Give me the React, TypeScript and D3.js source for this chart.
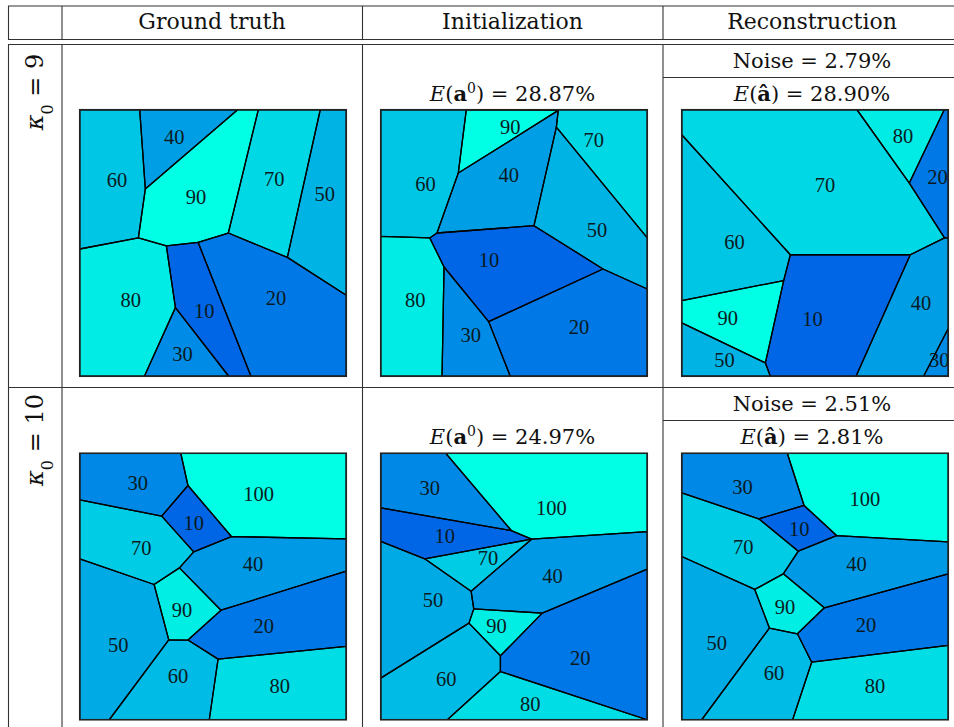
import React from "react";
import * as d3 from "d3";

type Pt = [number, number];
type Cell = { v: number; pts: Pt[]; lab: Pt };

// ---------- data (cell value, polygon vertices in 0..100 panel units, label position) ----------
const gt9: Cell[] = [
  { v: 60, pts: [[0, 0], [22.5, 0], [24.6, 29.75], [22, 48.1], [0, 52.25]], lab: [14, 26.5] },
  { v: 40, pts: [[22.5, 0], [59.25, 0], [24.6, 29.75]], lab: [35.5, 10.25] },
  { v: 90, pts: [[24.6, 29.75], [59.25, 0], [67, 0], [55.75, 46.25], [44.4, 49.75], [32.5, 51.1], [22, 48.1]], lab: [43.6, 32.9] },
  { v: 70, pts: [[67, 0], [90.25, 0], [77.9, 55.4], [55.75, 46.25]], lab: [73, 26] },
  { v: 50, pts: [[90.25, 0], [100, 0], [100, 69.6], [77.9, 55.4]], lab: [91.9, 31.5] },
  { v: 20, pts: [[55.75, 46.25], [77.9, 55.4], [100, 69.6], [100, 100], [64.25, 100], [44.4, 49.75]], lab: [73.6, 70.6] },
  { v: 10, pts: [[32.5, 51.1], [44.4, 49.75], [64.25, 100], [55.9, 100], [35.9, 74.25]], lab: [46.75, 75.6] },
  { v: 30, pts: [[35.9, 74.25], [55.9, 100], [24.25, 100]], lab: [38.6, 91.5] },
  { v: 80, pts: [[0, 52.25], [22, 48.1], [32.5, 51.1], [35.9, 74.25], [24.25, 100], [0, 100]], lab: [19.1, 71.5] },
];

const init9: Cell[] = [
  { v: 60, pts: [[0, 0], [32.1, 0], [29.1, 23.75], [21.1, 46.25], [18.4, 48.1], [0, 47.5]], lab: [16.75, 27.75] },
  { v: 90, pts: [[32.1, 0], [66.6, 0.25], [29.1, 23.75]], lab: [48.6, 6.5] },
  { v: 40, pts: [[29.1, 23.75], [66.6, 0.25], [65.9, 6.5], [57.5, 43.5], [21.1, 46.25]], lab: [48, 24.4] },
  { v: 70, pts: [[66.6, 0.25], [66.6, 0], [100, 0], [100, 48.1], [65.9, 6.5]], lab: [79.9, 11.25] },
  { v: 50, pts: [[65.9, 6.5], [100, 48.1], [100, 67.25], [83.4, 59.75], [57.5, 43.5]], lab: [81.1, 45.25] },
  { v: 10, pts: [[21.1, 46.25], [57.5, 43.5], [83.4, 59.75], [40.5, 79.5], [23.75, 59], [18.4, 48.1]], lab: [40.6, 56.25] },
  { v: 80, pts: [[0, 47.5], [18.4, 48.1], [23.75, 59], [23, 100], [0, 100]], lab: [12.9, 71.25] },
  { v: 30, pts: [[23.75, 59], [40.5, 79.5], [48.6, 100], [23, 100]], lab: [33.75, 84.6] },
  { v: 20, pts: [[40.5, 79.5], [83.4, 59.75], [100, 67.25], [100, 100], [48.6, 100]], lab: [74.4, 81.5] },
];

const recon9: Cell[] = [
  { v: 70, pts: [[0, 0], [65.75, 0], [85.4, 27.5], [98.6, 48.1], [85.75, 54.4], [40.75, 54.4], [0, 9.4]], lab: [53.75, 28.1] },
  { v: 80, pts: [[65.75, 0], [98.5, 0], [85.4, 27.5]], lab: [83, 9.75] },
  { v: 20, pts: [[98.5, 0], [100, 0], [100, 48.1], [98.6, 48.1], [85.4, 27.5]], lab: [96, 25.25] },
  { v: 60, pts: [[0, 9.4], [40.75, 54.4], [38.25, 64.1], [0, 71.6]], lab: [19.75, 49.75] },
  { v: 90, pts: [[0, 71.6], [38.25, 64.1], [31.4, 95], [0, 80]], lab: [17.25, 78.1] },
  { v: 50, pts: [[0, 80], [31.4, 95], [33.25, 100], [0, 100]], lab: [16, 94] },
  { v: 10, pts: [[40.75, 54.4], [85.75, 54.4], [65.4, 100], [33.25, 100], [31.4, 95], [38.25, 64.1]], lab: [49.1, 78.5] },
  { v: 40, pts: [[85.75, 54.4], [98.6, 48.1], [100, 48.1], [100, 82.1], [90.75, 100], [65.4, 100]], lab: [89.75, 72.5] },
  { v: 30, pts: [[100, 82.1], [100, 100], [90.75, 100]], lab: [96.6, 94] },
];

const gt10: Cell[] = [
  { v: 30, pts: [[0, 0], [37.9, 0], [40.6, 12.1], [30.75, 23.6], [0, 17.5]], lab: [21.75, 11.25] },
  { v: 100, pts: [[37.9, 0], [100, 0], [100, 32.1], [56.9, 31.25], [40.6, 12.1]], lab: [67.1, 15.25] },
  { v: 10, pts: [[40.6, 12.1], [56.9, 31.25], [42.75, 37], [30.75, 23.6]], lab: [42.75, 26.25] },
  { v: 70, pts: [[0, 17.5], [30.75, 23.6], [42.75, 37], [37.4, 43], [27.9, 49.25], [0, 39.6]], lab: [23.1, 35.5] },
  { v: 40, pts: [[42.75, 37], [56.9, 31.25], [100, 32.1], [100, 44.25], [53, 58.9], [37.4, 43]], lab: [65, 41.5] },
  { v: 90, pts: [[37.4, 43], [53, 58.9], [40.6, 70.1], [33.4, 70], [27.9, 49.25]], lab: [38.4, 58.75] },
  { v: 50, pts: [[0, 39.6], [27.9, 49.25], [33.4, 70], [11.1, 100], [0, 100]], lab: [14.4, 72.1] },
  { v: 20, pts: [[53, 58.9], [100, 44.25], [100, 72.5], [51.9, 77.25], [40.6, 70.1]], lab: [69, 64.9] },
  { v: 60, pts: [[33.4, 70], [40.6, 70.1], [51.9, 77.25], [48.6, 100], [11.1, 100]], lab: [36.9, 83.75] },
  { v: 80, pts: [[51.9, 77.25], [100, 72.5], [100, 100], [48.6, 100]], lab: [75, 87.5] },
];

const init10: Cell[] = [
  { v: 30, pts: [[0, 0], [24.4, 0], [49, 29], [0, 20.5]], lab: [18.4, 13] },
  { v: 100, pts: [[24.4, 0], [100, 0], [100, 29.4], [56.6, 32.25], [49, 29]], lab: [64, 20.5] },
  { v: 10, pts: [[0, 20.5], [49, 29], [56.6, 32.25], [16.5, 39.6], [0, 33.1]], lab: [24, 30.9] },
  { v: 70, pts: [[16.5, 39.6], [56.6, 32.25], [33.9, 51.75]], lab: [40.25, 39.25] },
  { v: 40, pts: [[56.6, 32.25], [100, 29.4], [100, 43.5], [60.6, 60], [34.9, 58.4], [33.9, 51.75]], lab: [64.4, 45.9] },
  { v: 50, pts: [[0, 33.1], [16.5, 39.6], [33.9, 51.75], [34.9, 58.4], [33.1, 63.75], [0, 84.4]], lab: [19.6, 55.25] },
  { v: 90, pts: [[34.9, 58.4], [60.6, 60], [44.9, 76], [33.1, 63.75]], lab: [43.4, 64.9] },
  { v: 20, pts: [[60.6, 60], [100, 43.5], [100, 100], [44.9, 81.9], [44.9, 76]], lab: [74.9, 76.75] },
  { v: 60, pts: [[0, 84.4], [33.1, 63.75], [44.9, 76], [44.9, 81.9], [25, 100], [0, 100]], lab: [24.6, 84.6] },
  { v: 80, pts: [[44.9, 81.9], [100, 100], [25, 100]], lab: [56.1, 94] },
];

const recon10: Cell[] = [
  { v: 30, pts: [[0, 0], [39.6, 0], [45.9, 19.6], [28.9, 24.6], [0, 14.9]], lab: [22.75, 12.75] },
  { v: 100, pts: [[39.6, 0], [100, 0], [100, 33.25], [58.1, 30.9], [45.9, 19.6]], lab: [68.75, 17.1] },
  { v: 10, pts: [[45.9, 19.6], [58.1, 30.9], [43.75, 36.75], [28.9, 24.6]], lab: [44.1, 28.4] },
  { v: 70, pts: [[0, 14.9], [28.9, 24.6], [43.75, 36.75], [38.1, 45.25], [27.4, 51.1], [0, 38.75]], lab: [23.1, 35.25] },
  { v: 40, pts: [[43.75, 36.75], [58.1, 30.9], [100, 33.25], [100, 45.25], [53.5, 58], [38.1, 45.25]], lab: [65.6, 41.5] },
  { v: 90, pts: [[38.1, 45.25], [53.5, 58], [43.4, 67.75], [32.9, 65.6], [27.4, 51.1]], lab: [38.75, 57.75] },
  { v: 50, pts: [[0, 38.75], [27.4, 51.1], [32.9, 65.6], [7.5, 100], [0, 100]], lab: [13.1, 71.25] },
  { v: 20, pts: [[53.5, 58], [100, 45.25], [100, 72.1], [48.75, 78.4], [43.4, 67.75]], lab: [69.1, 64.6] },
  { v: 60, pts: [[32.9, 65.6], [43.4, 67.75], [48.75, 78.4], [41.6, 100], [7.5, 100]], lab: [34.6, 82.5] },
  { v: 80, pts: [[48.75, 78.4], [100, 72.1], [100, 100], [41.6, 100]], lab: [72.5, 87.5] },
];

const columnHeaders = ["Ground truth", "Initialization", "Reconstruction"];
const kappaValues = ["9", "10"];
const noiseLevels = ["2.79%", "2.51%"];
const initErrors = ["28.87%", "24.97%"];
const reconErrors = ["28.90%", "2.81%"];
const rowPanels: Cell[][][] = [
  [gt9, init9, recon9],
  [gt10, init10, recon10],
];

// ---------- layout ----------
const W = 954;
const H = 727;
const SIZE = 266.5;
const panelX = [79.75, 380.75, 681.75];
const panelY = [109.75, 453.25];
const colLines = [8.5, 62, 362.5, 663];
const kappaCenterY = [92, 440];
const SERIF = "'DejaVu Serif', 'Liberation Serif', serif";
const NUMFONT = "'Liberation Serif', 'DejaVu Serif', serif";

function Panel({ cells, x0, y0, color, id }: { cells: Cell[]; x0: number; y0: number; color: (v: number) => string; id: string }) {
  const x = d3.scaleLinear().domain([0, 100]).range([x0, x0 + SIZE]);
  const y = d3.scaleLinear().domain([0, 100]).range([y0, y0 + SIZE]);
  const line = d3
    .line<Pt>()
    .x((d) => x(d[0]))
    .y((d) => y(d[1]));
  return (
    <g>
      <defs>
        <clipPath id={id}>
          <rect x={x0} y={y0} width={SIZE} height={SIZE} />
        </clipPath>
      </defs>
      <g clipPath={`url(#${id})`}>
        {cells.map((c, i) => (
          <path key={i} d={line(c.pts) + "Z"} fill={color(c.v)} stroke="none" />
        ))}
        {cells.map((c, i) => (
          <path key={"s" + i} d={line(c.pts) + "Z"} fill="none" stroke="#000" strokeWidth={1.3} strokeLinejoin="round" />
        ))}
        {cells.map((c, i) => (
          <text
            key={"t" + i}
            x={x(c.lab[0])}
            y={y(c.lab[1])}
            textAnchor="middle"
            dominantBaseline="central"
            fontFamily={NUMFONT}
            fontSize={20.5}
            fill="#0a1a22"
          >
            {c.v}
          </text>
        ))}
      </g>
      <rect x={x0} y={y0} width={SIZE} height={SIZE} fill="none" stroke="#222" strokeWidth={1.6} />
    </g>
  );
}

function ErrText({ x, y, hat, value }: { x: number; y: number; hat: boolean; value: string }) {
  return (
    <text x={x} y={y} textAnchor="middle" fontFamily={SERIF} fontSize={21} fill="#111">
      <tspan fontStyle="italic">E</tspan>
      <tspan>(</tspan>
      <tspan fontWeight="bold">{hat ? "â" : "a"}</tspan>
      {hat ? null : (
        <tspan baselineShift="super" fontSize={14}>
          0
        </tspan>
      )}
      <tspan>{") = " + value}</tspan>
    </text>
  );
}

export default function App() {
  const colorScales = rowPanels.map((panels) => {
    const vals = panels.flatMap((p) => p.map((c) => c.v));
    return d3
      .scaleLinear<string>()
      .domain(d3.extent(vals) as [number, number])
      .range(["#0066e6", "#00ffe4"])
      .interpolate(d3.interpolateRgb);
  });

  const noiseLineY = [77.5, 420.5];
  const colCenters = [212, 512.5, 812];

  return (
    <svg width={W} height={H} style={{ position: "absolute", left: 0, top: 0, background: "#fff" }}>
      <rect x={0} y={0} width={W} height={H} fill="#fff" />
      {/* table rules */}
      <g stroke="#333" strokeWidth={1.1}>
        <line x1={8} x2={W} y1={6} y2={6} />
        <line x1={8} x2={W} y1={39.5} y2={39.5} />
        <line x1={8} x2={W} y1={44.5} y2={44.5} />
        <line x1={8} x2={W} y1={387.5} y2={387.5} />
        {colLines.map((cx, i) => (
          <g key={i}>
            <line x1={cx} x2={cx} y1={6} y2={39.5} />
            <line x1={cx} x2={cx} y1={44.5} y2={H} />
          </g>
        ))}
        {noiseLineY.map((ly, i) => (
          <line key={"n" + i} x1={663} x2={W} y1={ly} y2={ly} />
        ))}
      </g>
      {/* headers */}
      {columnHeaders.map((h, i) => (
        <text key={h} x={colCenters[i]} y={29} textAnchor="middle" fontFamily={SERIF} fontSize={22} fill="#111">
          {h}
        </text>
      ))}
      {/* rows */}
      {rowPanels.map((panels, r) => (
        <g key={r}>
          <text
            transform={`translate(43, ${kappaCenterY[r]}) rotate(-90)`}
            textAnchor="middle"
            fontFamily={SERIF}
            fontSize={24}
            fill="#111"
          >
            <tspan fontStyle="italic">κ</tspan>
            <tspan baselineShift="sub" fontSize={16}>
              0
            </tspan>
            <tspan>{" = " + kappaValues[r]}</tspan>
          </text>
          <text x={812} y={noiseLineY[r] - 10} textAnchor="middle" fontFamily={SERIF} fontSize={21} fill="#111">
            {"Noise = " + noiseLevels[r]}
          </text>
          <ErrText x={512.5} y={panelY[r] - 9} hat={false} value={initErrors[r]} />
          <ErrText x={812} y={panelY[r] - 9} hat={true} value={reconErrors[r]} />
          {panels.map((cells, c) => (
            <Panel key={c} id={`clip-${r}-${c}`} cells={cells} x0={panelX[c]} y0={panelY[r]} color={colorScales[r]} />
          ))}
        </g>
      ))}
    </svg>
  );
}
